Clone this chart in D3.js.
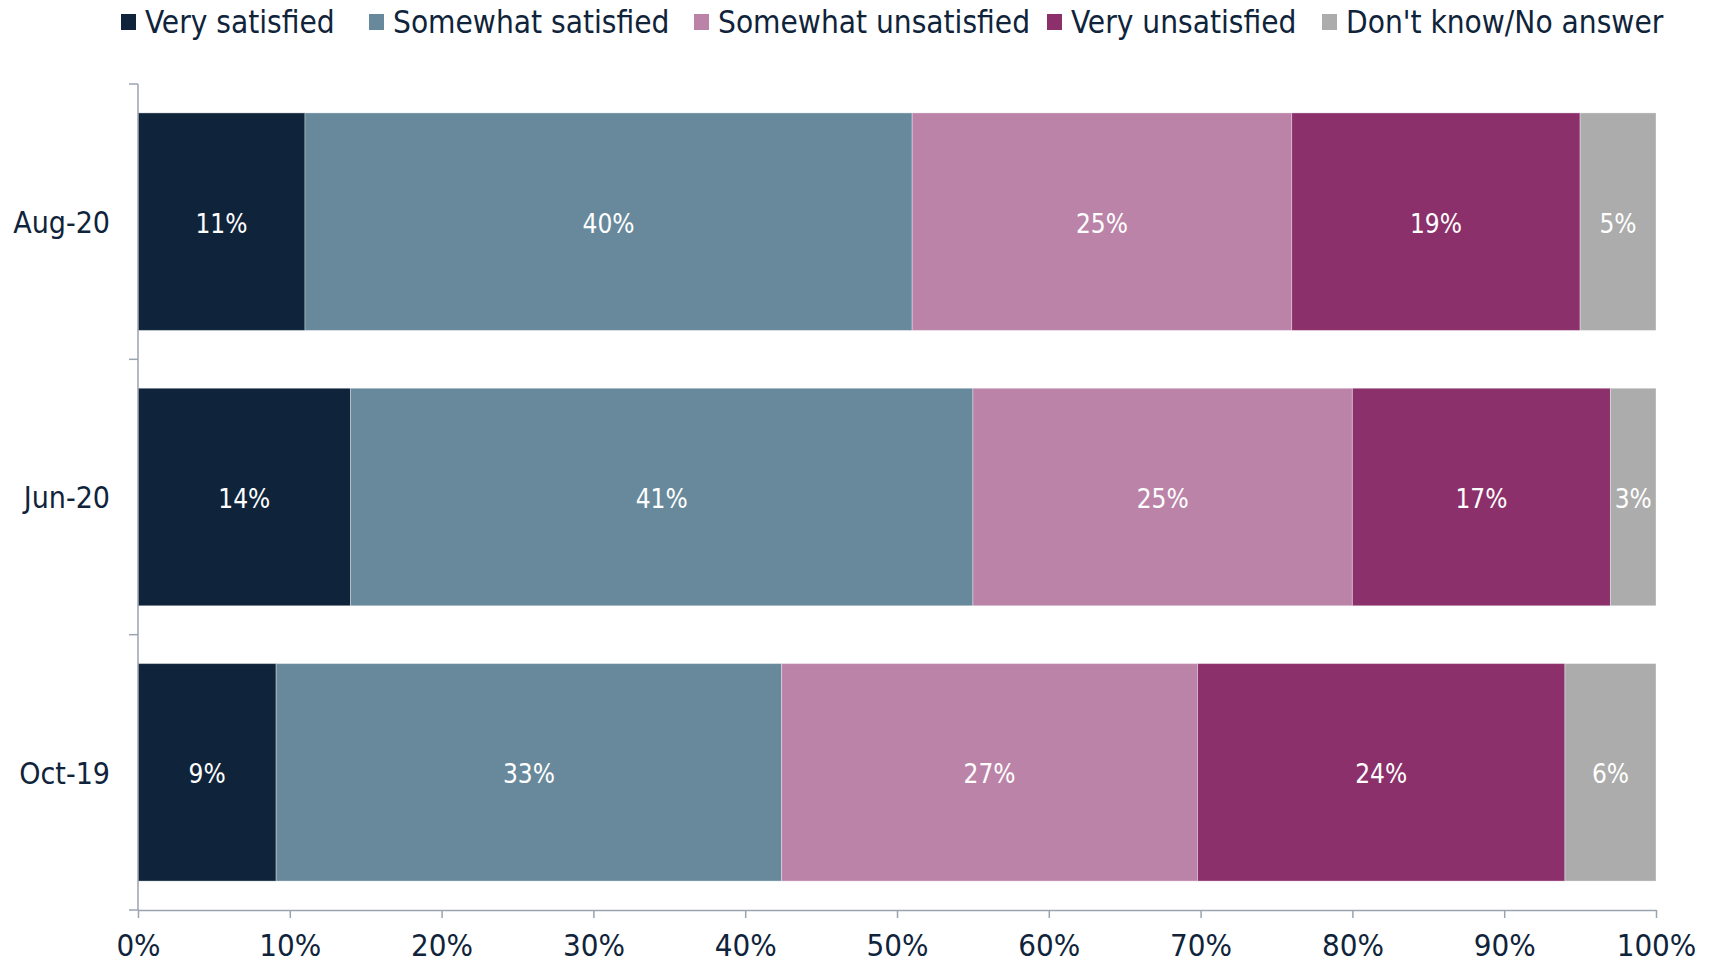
<!DOCTYPE html>
<html><head><meta charset="utf-8">
<script src="https://cdn.jsdelivr.net/npm/d3@7"></script>
<style>
body{margin:0;background:#fff;}
text{font-family:"DejaVu Sans Condensed","DejaVu Sans",sans-serif;}
</style></head>
<body><svg id="c" width="1712" height="966"></svg>
<script>
const categories = ["Aug-20","Jun-20","Oct-19"];
const seriesNames = ["Very satisfied","Somewhat satisfied","Somewhat unsatisfied","Very unsatisfied","Don't know/No answer"];
const verySatisfied = [11, 14, 9.1];
const somewhatSatisfied = [40, 41, 33.3];
const somewhatUnsatisfied = [25, 25, 27.4];
const veryUnsatisfied = [19, 17, 24.2];
const dontKnow = [5, 3, 6.0];
const xTicks = [0,10,20,30,40,50,60,70,80,90,100];
const colors = ["#0f243b","#67899b","#bb83a8","#8b306a","#acacac"];

const seriesValues = [verySatisfied, somewhatSatisfied, somewhatUnsatisfied, veryUnsatisfied, dontKnow];
const rows = categories.map((c,i)=>{const o={cat:c}; seriesNames.forEach((s,j)=>o[s]=seriesValues[j][i]); return o;});
const stack = d3.stack().keys(seriesNames)(rows);

const svg = d3.select("#c");
const m = {l:138, r:1656, t:84, b:910};
const x = d3.scaleLinear().domain([0,100]).range([m.l, m.r]);
const y = d3.scaleBand().domain(categories).range([m.t, m.b]).paddingInner(0.21).paddingOuter(0.105);
const yb = d3.scaleBand().domain(categories).range([m.t, m.b]);
const textColor = "#0f243b";
const axisColor = "#9aa3b0";

// bars
const g = svg.append("g");
stack.forEach((layer,j)=>{
  g.selectAll(null).data(layer).join("rect")
    .attr("x", d=>x(d[0])).attr("y", d=>y(d.data.cat))
    .attr("width", d=>x(d[1])-x(d[0])).attr("height", y.bandwidth())
    .attr("fill", colors[j]).attr("stroke","#ffffff").attr("stroke-opacity",0.35).attr("stroke-width",1);
  g.selectAll(null).data(layer).join("text")
    .attr("x", d=>(x(d[0])+x(d[1]))/2).attr("y", d=>y(d.data.cat)+y.bandwidth()/2)
    .attr("dy","0.42em").attr("text-anchor","middle").attr("fill","#fff")
    .attr("font-size",26).text(d=>Math.round(d[1]-d[0])+"%");
});

// x axis
const xa = svg.append("g").attr("transform",`translate(0,${m.b})`)
  .call(d3.axisBottom(x).tickValues(xTicks).tickFormat(d=>d+"%").tickSize(8).tickSizeOuter(0).tickPadding(16));
xa.select(".domain").attr("stroke",axisColor).attr("stroke-width",1.5);
xa.selectAll(".tick line").attr("stroke",axisColor).attr("stroke-width",1.5);
xa.selectAll(".tick text").attr("fill",textColor).attr("font-size",31).attr("font-family",'"DejaVu Sans Condensed","DejaVu Sans",sans-serif');

// y axis
const ya = svg.append("g").attr("transform",`translate(${m.l},0)`);
ya.append("line").attr("x1",0).attr("x2",0).attr("y1",m.t).attr("y2",m.b).attr("stroke",axisColor).attr("stroke-width",1.5);
const bounds = categories.map(c=>yb(c)).concat([m.b]);
ya.selectAll(null).data(bounds).join("line").attr("x1",-9).attr("x2",0).attr("y1",d=>d).attr("y2",d=>d).attr("stroke",axisColor).attr("stroke-width",1.5);
ya.selectAll(null).data(categories).join("text")
  .attr("x",-28).attr("y",d=>yb(d)+yb.bandwidth()/2).attr("dy","0.38em")
  .attr("text-anchor","end").attr("fill",textColor).attr("font-size",30).text(d=>d);

// legend (layout positions)
const legendX = [121, 369, 694, 1047, 1322];
const lg = svg.append("g");
seriesNames.forEach((s,j)=>{
  const lx = legendX[j];
  lg.append("rect").attr("x",lx).attr("y",14).attr("width",15).attr("height",16).attr("fill",colors[j]);
  lg.append("text").attr("x",lx+24).attr("y",22).attr("dy","0.36em").attr("fill",textColor).attr("font-size",31.3).text(s);
});
</script></body></html>
